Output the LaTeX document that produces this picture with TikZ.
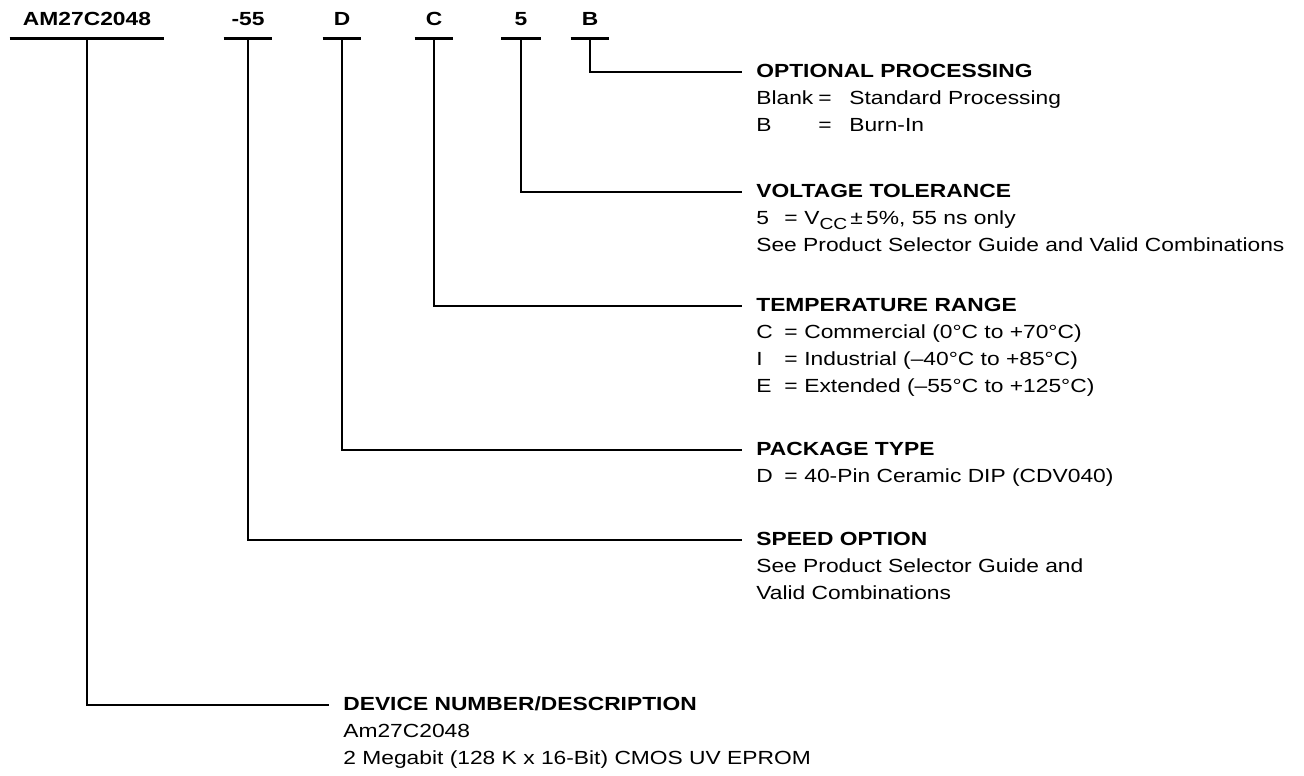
\documentclass[tikz,border=0pt]{standalone}
\usepackage{fontspec}
\setmainfont{Liberation Sans}[FakeStretch=1.2]

\begin{document}
\begin{tikzpicture}[x=1pt,y=-1pt,line width=2.7pt,
  code/.style={font=\fontsize{19}{22}\selectfont\bfseries,anchor=base,inner xsep=0pt,inner ysep=11pt,text depth=0pt},
  head/.style={font=\fontsize{19}{22}\selectfont\bfseries,anchor=base west,inner xsep=13pt,inner ysep=0pt,text height=11pt,text depth=0pt},
  entry/.style={font=\fontsize{19}{22}\selectfont,anchor=base west,inner sep=0pt}]
\useasboundingbox (0,0) rectangle (1304,776);
\def\r{27}
\newcommand{\eq}[2]{\makebox[28pt][l]{#1}\makebox[20pt][l]{=}#2}
\newcommand{\eqb}[2]{\makebox[62pt][l]{#1}\makebox[31pt][l]{=}#2}

% ordering code
\node[code,minimum width=152pt] (pDev) at (87,26) {AM27C2048};
\node[code,minimum width=46pt] (pSpeed) at (248,26) {-55};
\node[code,minimum width=36pt] (pPack) at (342,26) {D};
\node[code,minimum width=36pt] (pTemp) at (434,26) {C};
\node[code,minimum width=37pt] (pVolt) at (521,26) {5};
\node[code,minimum width=36pt] (pProc) at (590,26) {B};
\foreach \n in {pDev,pSpeed,pPack,pTemp,pVolt,pProc}
  \draw (\n.south west) -- (\n.south east);

% optional processing
\node[head] (hProc) at (742,77.5) {OPTIONAL PROCESSING};
\node[entry] (eProc1) at (755,77.5+\r) {\eqb{Blank}{Standard Processing}};
\node[entry] (eProc2) at (755,77.5+2*\r) {\eqb{B}{Burn-In}};

% voltage tolerance
\node[head] (hVolt) at (742,197.5) {VOLTAGE TOLERANCE};
\node[entry] (eVolt1) at (755,197.5+\r) {\eq{5}{V\raisebox{-4.5pt}{\fontsize{16}{16}\selectfont CC}\,±\,5\%, 55 ns only}};
\node[entry] (eVolt2) at (755,197.5+2*\r) {See Product Selector Guide and Valid Combinations};

% temperature range
\node[head] (hTemp) at (742,311.5) {TEMPERATURE RANGE};
\foreach \t [count=\i] in {{\eq{C}{Commercial (0°C to +70°C)}},
                           {\eq{I}{Industrial (–40°C to +85°C)}},
                           {\eq{E}{Extended (–55°C to +125°C)}}}
  \node[entry] (eTemp\i) at (755,311.5+\i*\r) {\t};

% package type
\node[head] (hPack) at (742,455.5) {PACKAGE TYPE};
\node[entry] (ePack1) at (755,455.5+\r) {\eq{D}{40-Pin Ceramic DIP (CDV040)}};

% speed option
\node[head] (hSpeed) at (742,545.5) {SPEED OPTION};
\node[entry] (eSpeed1) at (755,545.5+\r) {See Product Selector Guide and};
\node[entry] (eSpeed2) at (755,545.5+2*\r) {Valid Combinations};

% device number
\node[head] (hDev) at (329,710.5) {DEVICE NUMBER/DESCRIPTION};
\node[entry] (eDev1) at (342,710.5+\r) {Am27C2048};
\node[entry] (eDev2) at (342,710.5+2*\r) {2 Megabit (128 K x 16-Bit) CMOS UV EPROM};

% leaders
\draw (pProc.south) |- (hProc.west);
\draw (pVolt.south) |- (hVolt.west);
\draw (pTemp.south) |- (hTemp.west);
\draw (pPack.south) |- (hPack.west);
\draw (pSpeed.south) |- (hSpeed.west);
\draw (pDev.south) |- (hDev.west);
\end{tikzpicture}
\end{document}
